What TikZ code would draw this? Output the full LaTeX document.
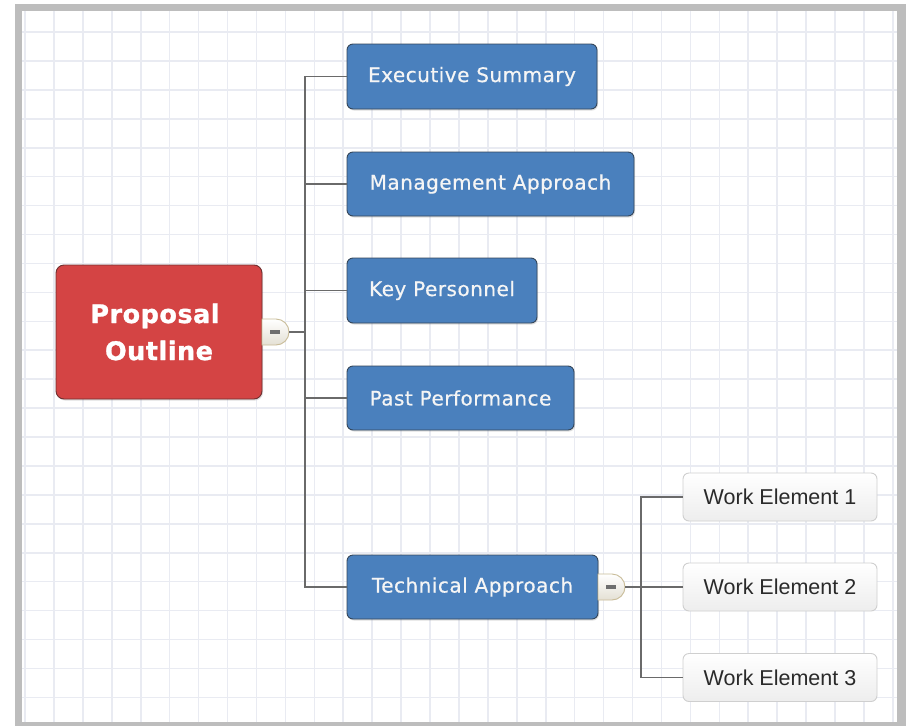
\documentclass[tikz,border=0pt]{standalone}
\usepackage{fontspec}
\setmainfont{DejaVu Sans}
\newfontfamily\wefont{Liberation Sans}
\newfontfamily\bluefont[LetterSpace=2.5,FakeBold=0.6]{DejaVu Sans}
\newfontfamily\rootfont[FakeBold=1.2,LetterSpace=2]{DejaVu Sans Bold}
\usetikzlibrary{shadows,shapes.misc}
\definecolor{framegray}{HTML}{BDBDBD}
\definecolor{gridc}{HTML}{E9EBF2}
\definecolor{bluefill}{HTML}{4A80BD}
\definecolor{blueedge}{HTML}{34465A}
\definecolor{redfill}{HTML}{D44444}
\definecolor{rededge}{HTML}{6E3030}
\definecolor{linec}{HTML}{6A6A6A}
\definecolor{btnedge}{HTML}{C9BC98}
\definecolor{btnfill}{HTML}{E4E0D4}
\definecolor{dashc}{HTML}{6E6E6E}
\definecolor{weedge}{HTML}{CFCFCF}
\definecolor{wetext}{HTML}{2A2A2A}
\tikzset{
  boxbase/.style={rounded corners=6pt, inner sep=0pt, outer sep=0pt,
    drop shadow={shadow xshift=1pt, shadow yshift=-1.5pt, opacity=0.25}},
  rootbox/.style={boxbase, rounded corners=8pt, fill=redfill, draw=rededge, line width=0.9pt,
    minimum width=206pt, minimum height=134pt, text=white, align=center,
    font=\rootfont\fontsize{25.5}{37}\selectfont},
  bluebox/.style={boxbase, fill=bluefill, draw=blueedge, line width=0.9pt,
    minimum height=64pt, text=white!96!black,
    font=\bluefont\fontsize{20}{23}\selectfont},
  webox/.style={rounded corners=6pt, inner sep=0pt, outer sep=0pt,
    top color=white, bottom color=black!7, draw=weedge, line width=0.9pt,
    minimum width=194pt, minimum height=48pt, text=wetext,
    font=\wefont\fontsize{21.5}{25}\selectfont},
  btn/.style={rounded rectangle, rounded rectangle left arc=none,
    inner sep=0pt, outer sep=0pt, minimum width=27pt, minimum height=26pt,
    top color=white, bottom color=btnfill, draw=btnedge, line width=0.9pt},
  conn/.style={draw=linec, line width=1.2pt}
}
\begin{document}
\begin{tikzpicture}[x=1pt,y=-1pt]
\useasboundingbox (0,0) rectangle (908,726);
\fill[white] (0,0) rectangle (908,726);
\fill[framegray] (15,4) rectangle (906,726);
\fill[white] (22,11) rectangle (897,722);
\begin{scope}
  \clip (22,11) rectangle (897,722);
  \foreach \i in {0,...,30} \draw[gridc, line width=1.6pt] ({25+28.93*\i},11) -- ({25+28.93*\i},722);
  \foreach \i in {0,...,24} \draw[gridc, line width=1.6pt] (22,{32+28.93*\i}) -- (897,{32+28.93*\i});
\end{scope}

% root
\node[rootbox] (root) at (159,332) {Proposal\hspace*{8pt}\\Outline};
\node[btn, anchor=west] (c1) at (root.east) {\color{dashc}\rule{10pt}{3.5pt}};
\coordinate (j1) at (305,332);

% children
\node[bluebox, minimum width=250pt, minimum height=65pt] (es) at (472,76.5) {Executive Summary};
\node[bluebox, minimum width=287pt] (ma) at (490.5,184) {Management Approach};
\node[bluebox, minimum width=190pt, minimum height=65pt] (kp) at (442,290.5) {Key Personnel};
\node[bluebox, minimum width=227pt] (pp) at (460.5,398) {Past Performance};
\node[bluebox, minimum width=251pt] (ta) at (472.5,587) {Technical Approach};
\node[btn, anchor=west] (c2) at (ta.east) {\color{dashc}\rule{10pt}{3.5pt}};
\coordinate (j2) at (641,587);

% work elements
\node[webox] (w1) at (780,497) {Work Element 1};
\node[webox] (w2) at (780,587) {Work Element 2};
\node[webox] (w3) at (780,677.5) {Work Element 3};

% connectors
\draw[conn] (c1.east) -- (j1);
\draw[conn] (j1) |- (es.west);
\draw[conn] (j1) |- (ma.west);
\draw[conn] (j1) |- (kp.west);
\draw[conn] (j1) |- (pp.west);
\draw[conn] (j1) |- (ta.west);
\draw[conn] (c2.east) -- (j2);
\draw[conn] (j2) |- (w1.west);
\draw[conn] (j2) -- (w2.west);
\draw[conn] (j2) |- (w3.west);
\end{tikzpicture}
\end{document}
